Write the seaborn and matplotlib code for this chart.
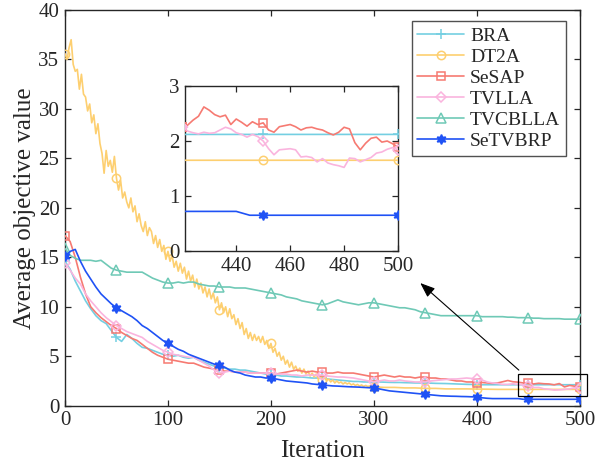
import numpy as np
import matplotlib
matplotlib.use("Agg")
import matplotlib.pyplot as plt
import seaborn as sns
from matplotlib.patches import Rectangle

# ---------------- data ----------------
iters = np.arange(0, 501, 5)

bra = [14.6, 13.8, 12.6, 11.6, 10.6, 9.8, 9.1, 8.6, 8.3, 7.6,
       6.9, 6.5, 7.2, 6.8, 6.3, 5.9, 5.8, 5.6, 5.4, 5.2,
       5.1, 5.0, 5.1, 4.9, 4.8, 4.9, 4.6, 4.4, 4.2, 4.0,
       3.8, 3.8, 3.7, 3.7, 3.6, 3.6, 3.5, 3.4, 3.3, 3.2,
       3.1, 3.1, 3.0, 3.0, 2.95, 2.9, 2.9, 2.85, 2.8, 2.8,
       2.8, 2.7, 2.65, 2.6, 2.55, 2.5, 2.45, 2.45, 2.4, 2.4,
       2.4, 2.4, 2.38, 2.36, 2.35, 2.35, 2.33, 2.32, 2.3, 2.3,
       2.3, 2.28, 2.26, 2.25, 2.24, 2.22, 2.2, 2.18, 2.16, 2.15,
       2.14, 2.12, 2.12, 2.12, 2.12, 2.12, 2.12, 2.12, 2.12, 2.12,
       2.12, 2.12, 2.12, 2.12, 2.12, 2.12, 2.12, 2.12, 2.12, 2.12,
       2.12]

sesap = [17.2, 16.6, 15.0, 13.0, 11.3, 10.0, 9.4, 8.9, 8.5, 8.1,
         7.8, 7.4, 7.1, 6.8, 6.6, 6.2, 5.8, 5.4, 5.1, 4.9,
         4.7, 4.6, 4.5, 4.4, 4.3, 4.3, 4.1, 3.9, 3.8, 3.7,
         3.6, 3.5, 3.5, 3.4, 3.4, 3.4, 3.3, 3.3, 3.3, 3.3,
         3.3, 3.2, 3.3, 3.4, 3.5, 3.6, 3.5, 3.4, 3.5, 3.4,
         3.4, 3.3, 3.3, 3.4, 3.3, 3.3, 3.3, 3.2, 3.1, 3.0,
         2.9, 3.0, 3.1, 3.0, 2.9, 3.0, 2.9, 2.9, 2.8, 2.9,
         2.9, 2.8, 2.8, 2.7, 2.7, 2.6, 2.5, 2.5, 2.4, 2.4,
         2.3, 2.35, 2.3, 2.25, 2.3, 2.42, 2.55, 2.42, 2.38, 2.3,
         2.25, 2.2, 2.27, 2.22, 2.2, 2.11, 2.24, 1.9, 2.05, 1.97,
         1.89]

tvlla = [14.4, 13.7, 12.9, 12.3, 11.3, 10.6, 10.0, 9.4, 8.9, 8.5,
         8.1, 7.8, 7.5, 7.3, 7.1, 6.9, 6.5, 6.2, 5.9, 5.6,
         5.4, 5.2, 5.1, 5.0, 4.9, 4.9, 4.6, 4.3, 4.0, 3.6,
         3.3, 3.4, 3.5, 3.4, 3.4, 3.4, 3.3, 3.3, 3.3, 3.3,
         3.3, 3.2, 3.2, 3.2, 3.1, 3.1, 3.0, 3.1, 3.1, 3.1,
         3.1, 3.0, 2.95, 2.9, 2.9, 2.85, 2.8, 2.7, 2.6, 2.5,
         2.4, 2.5, 2.6, 2.5, 2.5, 2.6, 2.5, 2.45, 2.4, 2.4,
         2.4, 2.5, 2.55, 2.6, 2.65, 2.7, 2.7, 2.75, 2.8, 2.75,
         2.7, 2.6, 2.4, 2.3, 2.25, 2.15, 2.15, 2.22, 2.15, 2.12,
         2.0, 1.84, 1.85, 1.71, 1.66, 1.58, 1.6, 1.65, 1.7, 1.82,
         1.84]

tvcblla = [15.9, 15.2, 14.9, 14.7, 14.7, 14.7, 14.6, 14.7, 14.3, 13.9,
           13.7, 13.6, 13.5, 13.5, 13.5, 13.5, 13.2, 12.9, 12.7, 12.5,
           12.4, 12.4, 12.5, 12.4, 12.5, 12.5, 12.3, 12.2, 12.1, 12.1,
           12.0, 12.0, 12.0, 11.9, 11.9, 11.9, 11.8, 11.7, 11.6, 11.5,
           11.4, 11.3, 11.2, 11.0, 10.9, 10.8, 10.6, 10.5, 10.4, 10.3,
           10.2, 10.3, 10.5, 10.7, 10.5, 10.4, 10.3, 10.2, 10.3, 10.4,
           10.4, 10.3, 10.2, 10.1, 10.0, 9.9, 9.9, 9.8, 9.7, 9.5,
           9.4, 9.3, 9.2, 9.1, 9.1, 9.1, 9.1, 9.1, 9.1, 9.1,
           9.1, 9.0, 9.0, 9.0, 9.0, 9.0, 8.95, 8.95, 8.9, 8.9,
           8.9, 8.85, 8.85, 8.8, 8.8, 8.8, 8.8, 8.75, 8.75, 8.75,
           8.75]

setvbrp = [15.1, 15.6, 15.8, 14.6, 13.6, 12.8, 12.0, 11.3, 10.8, 10.3,
           9.9, 9.6, 9.3, 9.0, 8.6, 8.1, 7.8, 7.4, 7.0, 6.6,
           6.3, 6.0, 5.7, 5.5, 5.2, 5.0, 4.8, 4.6, 4.4, 4.2,
           4.1, 3.9, 3.6, 3.4, 3.3, 3.1, 3.0, 2.9, 2.9, 2.8,
           2.8, 2.7, 2.6, 2.5, 2.45, 2.4, 2.35, 2.3, 2.2, 2.15,
           2.1, 2.05, 2.0, 1.98, 1.95, 1.92, 1.9, 1.88, 1.85, 1.82,
           1.8, 1.7, 1.6, 1.5, 1.45, 1.4, 1.35, 1.3, 1.25, 1.2,
           1.15, 1.1, 1.05, 1.0, 0.98, 0.96, 0.95, 0.93, 0.92, 0.9,
           0.88, 0.8, 0.75, 0.72, 0.72, 0.72, 0.72, 0.72, 0.72, 0.65,
           0.65, 0.65, 0.65, 0.65, 0.65, 0.65, 0.65, 0.65, 0.65, 0.65,
           0.65]

dt2a_iters = list(range(0, 300, 2)) + list(range(300, 501, 10))
dt2a = [35.6, 35.0, 36.2, 37.0, 34.5, 33.8, 34.0, 32.0, 33.5, 31.5,
        31.2, 29.8, 30.5, 28.6, 29.4, 27.5, 28.5, 26.5, 25.5, 23.5,
        25.8, 24.2, 24.8, 23.6, 25.2, 23.0, 21.8, 22.8, 21.0, 21.6,
        20.6, 20.0, 21.0, 19.6, 20.2, 18.6, 19.4, 18.2, 17.6, 18.6,
        17.2, 18.0, 17.6, 16.4, 17.2, 16.0, 16.8, 15.6, 16.2, 14.8,
        15.6, 14.6, 15.2, 14.0, 14.6, 13.6, 14.4, 13.4, 14.0, 12.8,
        13.6, 12.6, 13.2, 12.0, 12.8, 11.8, 12.4, 11.4, 12.0, 11.0,
        11.8, 10.8, 11.4, 10.4, 11.0, 9.7, 10.4, 9.4, 10.0, 9.0,
        9.8, 8.8, 9.2, 8.2, 8.8, 7.8, 8.4, 7.2, 7.8, 6.8,
        7.4, 6.6, 7.2, 6.6, 7.0, 6.4, 7.0, 6.2, 6.6, 5.8,
        6.3, 5.4, 5.8, 5.0, 5.4, 4.6, 5.0, 4.2, 4.6, 3.9,
        4.4, 3.7, 4.0, 3.5, 3.8, 3.3, 3.7, 3.2, 3.5, 3.0,
        3.3, 2.9, 3.2, 2.7, 3.0, 2.6, 2.9, 2.5, 2.7, 2.4,
        2.6, 2.3, 2.5, 2.3, 2.4, 2.2, 2.35, 2.2, 2.3, 2.1,
        2.2, 2.05, 2.15, 2.0, 2.1, 1.95, 2.05, 1.95, 2.0, 1.9,
        1.9, 1.85, 1.85, 1.8, 1.8, 1.75, 1.75, 1.7, 1.7, 1.7,
        1.68, 1.65, 1.65, 1.65, 1.65, 1.65, 1.65, 1.65, 1.65, 1.65,
        1.65]

# zoomed detail (iterations 420-500)
fine_iters = np.arange(420, 501, 2)
sesap_fine = [2.25, 2.29, 2.38, 2.45, 2.62, 2.56, 2.48, 2.44, 2.47, 2.3,
              2.4, 2.34, 2.27, 2.35, 2.3, 2.33, 2.2, 2.16, 2.26, 2.28,
              2.3, 2.26, 2.2, 2.24, 2.25, 2.22, 2.2, 2.15, 2.11, 2.16,
              2.25, 2.22, 1.97, 1.84, 1.96, 2.05, 2.07, 1.98, 2.0, 1.95,
              1.89]
tvlla_fine = [2.26, 2.18, 2.15, 2.13, 2.16, 2.14, 2.15, 2.2, 2.25, 2.22,
              2.15, 2.12, 2.07, 2.12, 2.08, 2.0, 1.86, 1.75, 1.84, 1.85,
              1.86, 1.84, 1.71, 1.72, 1.7, 1.62, 1.68, 1.6, 1.57, 1.55,
              1.52, 1.69, 1.68, 1.62, 1.66, 1.7, 1.78, 1.8, 1.85, 1.88,
              1.84]

names = ["BRA", "DT2A", "SeSAP", "TVLLA", "TVCBLLA", "SeTVBRP"]
colors = ["#74cfe2", "#fdcf70", "#f67a72", "#fab4de", "#6fc9b6", "#1f52f5"]
hexagram = (6, 1, 0)
markers = ["+", "o", "s", "D", "^", hexagram]
msizes = [7, 6, 6, 5, 6.5, 7]

# ---------------- style ----------------
sns.set_style("ticks")
plt.rcParams["font.family"] = ["Liberation Serif", "DejaVu Serif"]
plt.rcParams["xtick.direction"] = "in"
plt.rcParams["ytick.direction"] = "in"

fig = plt.figure(figsize=(5.96, 4.68), dpi=100)
ax = fig.add_axes([0.109, 0.1331, 0.864, 0.8455])
axin = fig.add_axes([0.3104, 0.4637, 0.3574, 0.3525])

marks_main = np.arange(0, 501, 50)


def draw(a, x, y, k, label=None):
    x = np.asarray(x)
    mevery = [int(np.argmin(np.abs(x - m))) for m in marks_main]
    filled = (k == 5)
    sns.lineplot(x=x, y=y, ax=a, color=colors[k], linewidth=1.2,
                 marker=markers[k], markersize=msizes[k], markevery=mevery,
                 markerfacecolor=colors[k] if filled else "none",
                 markeredgecolor=colors[k], markeredgewidth=1.1,
                 label=label, legend=False, zorder=3 + k * 0.01)


series_main = [(iters, bra), (dt2a_iters, dt2a), (iters, sesap),
               (iters, tvlla), (iters, tvcblla), (iters, setvbrp)]
for k, (x, y) in enumerate(series_main):
    draw(ax, x, y, k, label=names[k])

series_in = [(iters, bra), (dt2a_iters, dt2a), (fine_iters, sesap_fine),
             (fine_iters, tvlla_fine), (iters, tvcblla), (iters, setvbrp)]
for k, (x, y) in enumerate(series_in):
    draw(axin, x, y, k)

ax.set_xlim(0, 500)
ax.set_ylim(0, 40)
ax.set_xticks(np.arange(0, 501, 100))
ax.set_yticks(np.arange(0, 41, 5))
ax.set_xlabel("Iteration", fontsize=18, labelpad=7)
ax.set_ylabel("Average objective value", fontsize=18, labelpad=2)

axin.set_xlim(421, 500)
axin.set_ylim(0, 3)
axin.set_xticks([440, 460, 480, 500])
axin.set_yticks([0, 1, 2, 3])

for a in (ax, axin):
    a.tick_params(axis="both", which="both", direction="in", top=True, right=True,
                  labelsize=15, length=4, width=0.9, color="#262626", pad=4)
    for s in a.spines.values():
        s.set_linewidth(1.0)
        s.set_color("#262626")
axin.set_facecolor("white")

# zoom box + arrow
ax.add_patch(Rectangle((440, 1.0), 67, 2.2, fill=False, edgecolor="black",
                       linewidth=0.9, clip_on=False, zorder=6))
ax.annotate("", xy=(345, 12.4), xytext=(440.7, 3.6),
            arrowprops=dict(arrowstyle="-|>,head_length=0.9,head_width=0.35",
                            color="black", linewidth=0.8,
                            shrinkA=0, shrinkB=0), zorder=6)

leg = ax.legend(loc="upper right", bbox_to_anchor=(0.973, 0.972), borderaxespad=0,
                fontsize=14, frameon=True, fancybox=False, edgecolor="#262626",
                handlelength=2.4, handletextpad=0.3, labelspacing=0.18,
                borderpad=0.3)
leg.get_frame().set_linewidth(1.0)
leg.set_zorder(10)

fig.savefig("out.png", dpi=100)
